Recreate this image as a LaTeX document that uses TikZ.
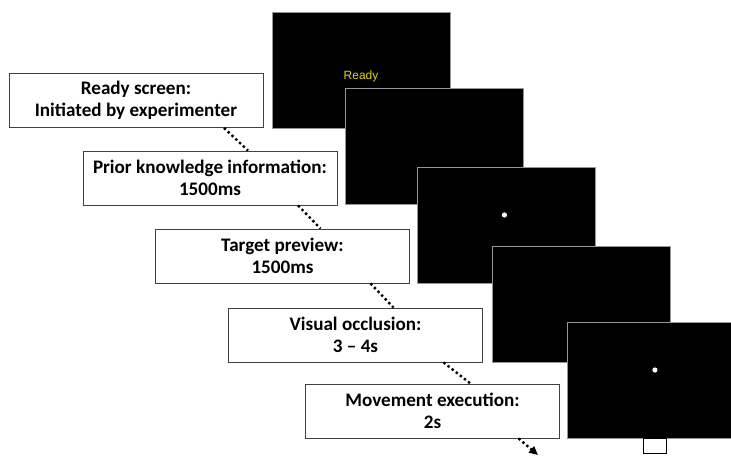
\documentclass[tikz,border=0pt]{standalone}
\usepackage{fontspec}
\setmainfont{Carlito}
\newfontfamily\arialfont{Liberation Sans}
\usetikzlibrary{arrows.meta,calc}
\definecolor{frame}{RGB}{64,64,64}
\definecolor{bezel}{RGB}{150,150,150}
\definecolor{readyyellow}{RGB}{215,215,20}
\tikzset{
  >={Triangle[length=2.2mm,width=2mm]},
  screen/.style={fill=black,draw=bezel,line width=0.6pt,minimum width=4.45cm,
    minimum height=2.9cm,inner sep=0pt},
  phase/.style={fill=white,draw=frame,line width=0.6pt,minimum width=6.35cm,
    minimum height=1.35cm,align=center,inner sep=0pt,
    font=\fontsize{13.6}{16}\selectfont\bfseries},
  timeline/.style={line width=1.7pt,dotted},
  target/.style={circle,fill=white,minimum size=1.3mm,inner sep=0pt},
}

\begin{document}
\begin{tikzpicture}[x=0.025cm,y=-0.025cm]
    \clip (0,0) rectangle (731,455);
    \fill[white] (0,0) rectangle (731,455);
    % monitor frames
    \foreach \x/\y [count=\i] in {361/70,434.5/146.5,506/225,581/304.5,656.5/380}
      \node[screen] (s\i) at (\x,\y) {};
    \node[font=\arialfont\fontsize{8.5}{10}\selectfont,text=readyyellow] (ready) at ([yshift=-0.15cm]s1.center) {Ready};
    \node[target] (dot3) at ([xshift=-0.04cm,yshift=0.25cm]s3.center) {};
    \node[target] (dot5) at ([xshift=-0.04cm,yshift=0.25cm]s5.center) {};
    \node[fill=white,draw=black,line width=0.6pt,minimum width=0.58cm,minimum height=0.36cm,
      inner sep=0pt,anchor=north] (btn) at (s5.south -| dot5) {};
    % phases
    \foreach \t/\x/\y [count=\i] in {{Ready screen:\\Initiated by experimenter}/136/100.5,
        {Prior knowledge information:\\1500ms}/210/178,{Target preview:\\1500ms}/282.5/256,
        {Visual occlusion:\\3 -- 4s}/355.5/335,{Movement execution:\\2s}/432.5/411}
      \node[phase] (b\i) at (\x,\y) {\t};
    \foreach \i [count=\j from 2] in {1,...,4}
      \draw[timeline] ([xshift=2.2cm]b\i.south) -- ([xshift=0.95cm]b\j.north);
    \coordinate (end) at (538,455);
    \draw[timeline,->] ([xshift=2.15cm]b5.south) -- (end);
  \end{tikzpicture}
\end{document}
